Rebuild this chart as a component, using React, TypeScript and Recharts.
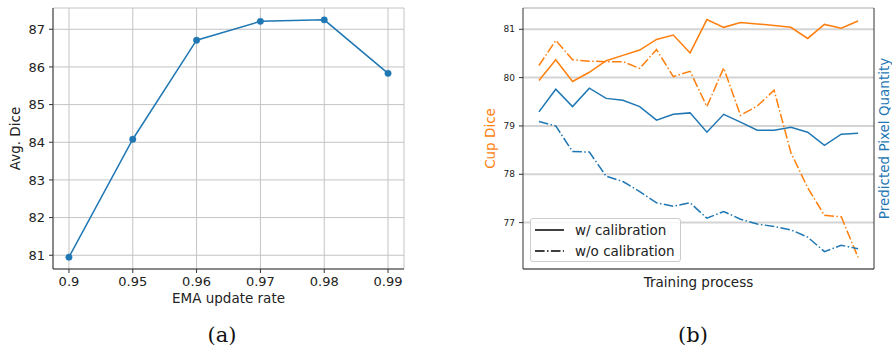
import React from 'react';
import { LineChart, Line, XAxis, YAxis, CartesianGrid, Legend } from 'recharts';

// (a) EMA update rate vs Avg. Dice
const emaRates = ['0.9', '0.95', '0.96', '0.97', '0.98', '0.99'];
const avgDice = [80.95, 84.08, 86.71, 87.21, 87.25, 85.83];

// (b) training process (20 checkpoints)
const cupDiceWithCal = [79.94, 80.37, 79.92, 80.11, 80.35, 80.46, 80.57, 80.79, 80.88, 80.51, 81.2, 81.04, 81.14, 81.11, 81.08, 81.04, 80.81, 81.1, 81.02, 81.17];
const cupDiceWithoutCal = [80.25, 80.77, 80.37, 80.34, 80.33, 80.33, 80.19, 80.58, 80.02, 80.13, 79.4, 80.2, 79.22, 79.41, 79.74, 78.45, 77.72, 77.15, 77.12, 76.28];
const pixelQtyWithCal = [79.29, 79.76, 79.4, 79.78, 79.57, 79.53, 79.4, 79.12, 79.24, 79.27, 78.87, 79.24, 79.08, 78.91, 78.91, 78.97, 78.87, 78.6, 78.83, 78.85];
const pixelQtyWithoutCal = [79.09, 79.0, 78.47, 78.46, 77.96, 77.85, 77.64, 77.41, 77.34, 77.41, 77.09, 77.23, 77.07, 76.97, 76.92, 76.85, 76.7, 76.4, 76.53, 76.46];

const diceTicks = [81, 82, 83, 84, 85, 86, 87];
const cupTicks = [77, 78, 79, 80, 81];

const legendItems = [
  { label: 'w/ calibration', dash: undefined as string | undefined },
  { label: 'w/o calibration', dash: '9.6 2.4 1.5 2.4' },
];

const ORANGE = '#ff7f0e';
const BLUE = '#1f77b4';
const TEXT = '#222222';
const FRAME = '#333333';
const DASHDOT = '9.6 2.4 1.5 2.4';

const emaData = emaRates.map((r, i) => ({ idx: i, rate: r, dice: avgDice[i] }));
const trainData = cupDiceWithCal.map((v, i) => ({
  step: i,
  cupCal: v,
  cupNoCal: cupDiceWithoutCal[i],
  pixCal: pixelQtyWithCal[i],
  pixNoCal: pixelQtyWithoutCal[i],
}));

const LegendBox = () => (
  <div
    style={{
      width: 149,
      height: 42,
      border: '1px solid #cccccc',
      borderRadius: 3,
      background: 'rgba(255,255,255,0.85)',
      fontFamily: 'DejaVu Sans',
      fontSize: 13.5,
      color: TEXT,
      position: 'relative',
    }}
  >
    {legendItems.map((it, i) => (
      <div key={it.label} style={{ position: 'absolute', left: 3, top: 1 + i * 21, height: 20, display: 'flex', alignItems: 'center' }}>
        <svg width={30} height={20} style={{ display: 'block' }}>
          <line x1={1} y1={10} x2={30} y2={10} stroke="#000" strokeWidth={1.5} strokeDasharray={it.dash} />
        </svg>
        <span style={{ marginLeft: 11, whiteSpace: 'nowrap', lineHeight: '20px' }}>{it.label}</span>
      </div>
    ))}
  </div>
);

export default function App() {
  return (
    <div style={{ position: 'absolute', left: 0, top: 0, width: 892, height: 347, background: '#fff', fontFamily: 'DejaVu Sans' }}>
      <div style={{ position: 'absolute', left: 0, top: 0 }}>
        <LineChart width={440} height={320} data={emaData} margin={{ top: 8, right: 36, bottom: 11, left: 13 }}>
          <CartesianGrid stroke="#c4c4c4" strokeWidth={1} />
          <XAxis
            dataKey="idx"
            type="number"
            domain={[-0.25, 5.25]}
            ticks={[0, 1, 2, 3, 4, 5]}
            tickFormatter={(v: number) => emaRates[v]}
            height={40}
            tickSize={4}
            tickMargin={4}
            tick={{ fontSize: 13, fill: TEXT }}
            axisLine={{ stroke: FRAME }}
            tickLine={{ stroke: FRAME }}
            label={{ value: 'EMA update rate', position: 'insideBottom', offset: 6, fontSize: 13.5, fill: TEXT }}
          />
          <XAxis xAxisId="top" orientation="top" dataKey="idx" type="number" domain={[-0.25, 5.25]} height={0} tick={false} tickLine={false} axisLine={{ stroke: FRAME }} />
          <YAxis
            type="number"
            domain={[80.635, 87.565]}
            ticks={diceTicks}
            width={40}
            tickSize={4}
            tickMargin={4}
            tick={{ fontSize: 13, fill: TEXT }}
            axisLine={{ stroke: FRAME }}
            tickLine={{ stroke: FRAME }}
            label={{ value: 'Avg. Dice', angle: -90, position: 'insideLeft', offset: 2, fontSize: 13.5, fill: TEXT, style: { textAnchor: 'middle' } }}
          />
          <YAxis yAxisId="right" orientation="right" type="number" domain={[80.635, 87.565]} width={0} tick={false} tickLine={false} axisLine={{ stroke: FRAME }} />
          <Line
            dataKey="dice"
            stroke={BLUE}
            strokeWidth={1.5}
            dot={{ r: 3.2, fill: BLUE, stroke: BLUE, strokeWidth: 0.5 }}
            isAnimationActive={false}
          />
        </LineChart>
      </div>

      <div style={{ position: 'absolute', left: 440, top: 0 }}>
        <LineChart width={452} height={320} data={trainData} margin={{ top: 8, right: 0, bottom: 26, left: 45 }}>
          <CartesianGrid yAxisId="left" vertical={false} stroke="#d4d4d4" strokeWidth={2} />
          <XAxis
            dataKey="step"
            type="number"
            domain={[-0.95, 19.95]}
            height={25}
            tick={false}
            tickLine={false}
            axisLine={{ stroke: FRAME }}
            label={{ value: 'Training process', position: 'insideBottom', offset: 7.5, fontSize: 13.5, fill: TEXT }}
          />
          <XAxis xAxisId="top" orientation="top" dataKey="step" type="number" domain={[-0.95, 19.95]} height={0} tick={false} tickLine={false} axisLine={{ stroke: FRAME }} />
          <YAxis
            yAxisId="left"
            type="number"
            domain={[76.04, 81.44]}
            ticks={cupTicks}
            width={38}
            tickSize={4}
            tickMargin={4}
            tick={{ fontSize: 9, fill: TEXT }}
            axisLine={{ stroke: FRAME }}
            tickLine={{ stroke: FRAME }}
            label={{ value: 'Cup Dice', angle: -90, position: 'insideLeft', offset: 5, fontSize: 13.5, fill: ORANGE, style: { textAnchor: 'middle' } }}
          />
          <YAxis
            yAxisId="right"
            orientation="right"
            type="number"
            domain={[76.04, 81.44]}
            width={18}
            tick={false}
            tickLine={false}
            axisLine={{ stroke: FRAME }}
            label={{ value: 'Predicted Pixel Quantity', angle: -90, position: 'insideRight', offset: 7.5, fontSize: 13.5, fill: BLUE, style: { textAnchor: 'middle' } }}
          />
          <Legend layout="horizontal" verticalAlign="middle" align="center" content={() => <LegendBox />} wrapperStyle={{ left: 90, top: 218, width: 'auto', height: 'auto' }} />
          <Line yAxisId="left" dataKey="cupCal" stroke={ORANGE} strokeWidth={1.5} dot={false} isAnimationActive={false} />
          <Line yAxisId="left" dataKey="cupNoCal" stroke={ORANGE} strokeWidth={1.5} strokeDasharray={DASHDOT} dot={false} isAnimationActive={false} />
          <Line yAxisId="right" dataKey="pixCal" stroke={BLUE} strokeWidth={1.5} dot={false} isAnimationActive={false} />
          <Line yAxisId="right" dataKey="pixNoCal" stroke={BLUE} strokeWidth={1.5} strokeDasharray={DASHDOT} dot={false} isAnimationActive={false} />
        </LineChart>
      </div>

      <div style={{ position: 'absolute', left: 172, top: 325, width: 100, height: 20, lineHeight: '20px', textAlign: 'center', fontFamily: 'DejaVu Serif', fontSize: 21, color: '#111' }}>(a)</div>
      <div style={{ position: 'absolute', left: 643, top: 325, width: 100, height: 20, lineHeight: '20px', textAlign: 'center', fontFamily: 'DejaVu Serif', fontSize: 21, color: '#111' }}>(b)</div>
    </div>
  );
}
